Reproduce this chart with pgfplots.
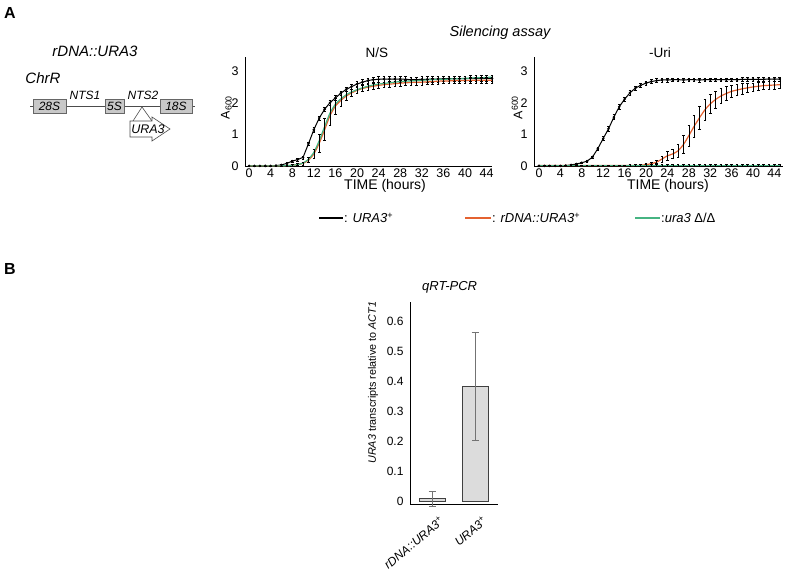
\documentclass[border=0pt]{standalone}
\usepackage{fontspec}
\setmainfont{Liberation Sans}
\usepackage{pgfplots}
\pgfplotsset{compat=1.18}
\usepackage{pgfplotstable}
\definecolor{myorange}{RGB}{228,98,48}
\definecolor{mygreen}{RGB}{70,180,130}
\definecolor{boxgray}{RGB}{200,200,200}
\definecolor{bargray}{RGB}{220,220,220}
\newcommand\fs[1]{\fontsize{#1bp}{#1bp}\selectfont}

\pgfplotstableread{
t blk be org oe grn
0 0 0 0 0 0
1 0 0 0 0 0
2 0 0 0 0 0
3 0 0 0 0 0
4 0 0 0 0 0
5 0.01 0.01 0 0 0
6 0.03 0.02 0 0 0
7 0.08 0.03 0.01 0.01 0.01
8 0.15 0.04 0.02 0.02 0.02
9 0.20 0.04 0.04 0.03 0.04
10 0.27 0.05 0.08 0.05 0.09
11 0.70 0.06 0.18 0.08 0.21
12 1.15 0.07 0.38 0.15 0.43
13 1.52 0.07 0.72 0.28 0.80
14 1.80 0.07 1.15 0.35 1.25
15 2.01 0.07 1.60 0.32 1.68
16 2.16 0.07 1.90 0.25 1.96
17 2.31 0.07 2.08 0.18 2.13
18 2.43 0.07 2.22 0.14 2.26
19 2.52 0.07 2.32 0.12 2.35
20 2.60 0.08 2.40 0.10 2.42
21 2.66 0.08 2.46 0.10 2.48
22 2.71 0.08 2.50 0.09 2.53
23 2.74 0.09 2.53 0.09 2.57
24 2.75 0.09 2.56 0.09 2.60
25 2.76 0.09 2.58 0.09 2.62
26 2.76 0.09 2.60 0.09 2.64
27 2.76 0.09 2.61 0.09 2.66
28 2.76 0.09 2.63 0.09 2.68
29 2.75 0.09 2.64 0.09 2.69
30 2.74 0.09 2.65 0.09 2.70
31 2.74 0.09 2.66 0.09 2.71
32 2.75 0.09 2.66 0.09 2.72
33 2.75 0.09 2.67 0.09 2.73
34 2.76 0.09 2.68 0.09 2.74
35 2.76 0.09 2.69 0.09 2.75
36 2.77 0.09 2.70 0.09 2.75
37 2.77 0.09 2.70 0.09 2.76
38 2.77 0.09 2.71 0.09 2.77
39 2.77 0.09 2.71 0.09 2.77
40 2.77 0.09 2.71 0.09 2.78
41 2.78 0.09 2.72 0.09 2.79
42 2.78 0.09 2.72 0.09 2.80
43 2.78 0.09 2.72 0.09 2.80
44 2.78 0.09 2.72 0.09 2.81
45 2.78 0.09 2.72 0.09 2.82
}\ns

\pgfplotstableread{
t blk be org oe grn ge
0 0 0 0.01 0 0.02 0
1 0 0 0.01 0 0.02 0
2 0 0 0.01 0 0.02 0
3 0 0 0.01 0 0.02 0
4 0 0 0.01 0 0.02 0
5 0.01 0.01 0.01 0 0.02 0
6 0.03 0.02 0.01 0 0.02 0
7 0.06 0.02 0.01 0 0.02 0
8 0.10 0.03 0.01 0 0.02 0
9 0.15 0.03 0.01 0 0.02 0
10 0.28 0.04 0.01 0 0.02 0
11 0.55 0.05 0.01 0 0.02 0
12 0.87 0.06 0.01 0 0.02 0
13 1.18 0.07 0.01 0 0.02 0
14 1.55 0.08 0.01 0 0.02 0
15 1.88 0.08 0.01 0 0.02 0
16 2.12 0.07 0.01 0 0.02 0
17 2.32 0.07 0.01 0 0.02 0.03
18 2.47 0.06 0.01 0.02 0.02 0.03
19 2.56 0.06 0.02 0.03 0.02 0.03
20 2.63 0.06 0.04 0.03 0.02 0.03
21 2.68 0.06 0.07 0.04 0.02 0.03
22 2.71 0.06 0.12 0.05 0.02 0.03
23 2.73 0.06 0.22 0.10 0.02 0.03
24 2.73 0.06 0.32 0.15 0.02 0.03
25 2.74 0.06 0.38 0.15 0.02 0.03
26 2.74 0.06 0.48 0.20 0.02 0.03
27 2.73 0.06 0.68 0.28 0.02 0.03
28 2.74 0.06 0.96 0.33 0.02 0.03
29 2.74 0.06 1.26 0.36 0.02 0.03
30 2.73 0.06 1.53 0.36 0.02 0.03
31 2.74 0.06 1.78 0.33 0.02 0.03
32 2.74 0.06 1.97 0.30 0.02 0.03
33 2.74 0.06 2.11 0.27 0.02 0.03
34 2.74 0.06 2.22 0.24 0.02 0.03
35 2.74 0.06 2.30 0.22 0.02 0.03
36 2.74 0.06 2.37 0.20 0.02 0.03
37 2.74 0.06 2.41 0.18 0.02 0.03
38 2.75 0.06 2.45 0.16 0.02 0.03
39 2.75 0.06 2.48 0.14 0.02 0.03
40 2.75 0.06 2.51 0.13 0.02 0.03
41 2.75 0.06 2.53 0.12 0.02 0.03
42 2.75 0.06 2.55 0.12 0.02 0.03
43 2.76 0.06 2.56 0.12 0.02 0.03
44 2.76 0.06 2.57 0.12 0.02 0.03
45 2.76 0.06 2.58 0.12 0.02 0.03
}\uri

\pgfplotsset{
  every axis title shift=0pt,
  growth/.style={
    scale only axis, height=109.5bp,
    axis x line*=bottom, axis y line*=left,
    ymin=-0.02, ymax=3.46,
    xtick={0,4,...,44}, ytick={0,1,2,3},
    tick style={draw=none},
    axis line style={line width=0.8bp, black},
    /pgf/number format/assume math mode=true,
    xticklabel style={font=\fs{12.5}, inner sep=2bp},
    yticklabel style={font=\fs{12.5}, xshift=-3bp},
    xlabel style={font=\fs{14}, anchor=center},
    ylabel style={font=\fs{12.5}, anchor=center},
    title style={font=\fs{13.5}, anchor=center},
    clip=false,
  },
  ebar/.style={error bars/.cd, y dir=both, y explicit,
    error bar style={draw=black, line width=0.5bp},
    error mark options={rotate=90, mark size=1.3bp, draw=black, line width=0.5bp}},
}

\begin{document}
\begin{tikzpicture}
\useasboundingbox (0,0) rectangle (787bp,-576bp);

% ---------- N/S ----------
\begin{axis}[growth, at={(245bp,-166.5bp)}, anchor=south west,
  width=247bp, xmin=-0.75, xmax=45,
  title={N/S}, title style={at={(axis description cs:0.534,1.04)}},
  xlabel={TIME (hours)}, xlabel style={at={(axis description cs:0.567,-0.18)}},
  ylabel={A\textsubscript{600}}, ylabel style={at={(axis description cs:-0.075,0.54)}}]
\addplot[black, line width=1bp, mark=*, mark size=0.7bp] table[x=t, y=blk] {\ns};
\addplot[draw=none, forget plot, ebar] table[x=t, y=blk, y error=be] {\ns};
\addplot[myorange, line width=1.2bp, smooth, tension=0.4] table[x=t, y=org] {\ns};
\addplot[mygreen, line width=1.2bp, smooth, tension=0.4] table[x=t, y=grn] {\ns};
\addplot[draw=none, forget plot, ebar] table[x=t, y=org, y error=oe] {\ns};
\end{axis}

% ---------- -Uri ----------
\begin{axis}[growth, at={(534bp,-166.5bp)}, anchor=south west,
  width=249bp, xmin=-0.93, xmax=45.6,
  title={-Uri}, title style={at={(axis description cs:0.506,1.04)}},
  xlabel={TIME (hours)}, xlabel style={at={(axis description cs:0.538,-0.18)}},
  ylabel={A\textsuperscript{600}}, ylabel style={at={(axis description cs:-0.068,0.54)}}]
\addplot[black, line width=1bp, mark=*, mark size=0.7bp] table[x=t, y=blk] {\uri};
\addplot[draw=none, forget plot, ebar] table[x=t, y=blk, y error=be] {\uri};
\addplot[myorange, line width=1.2bp, smooth, tension=0.4] table[x=t, y=org] {\uri};
\addplot[draw=none, forget plot, ebar] table[x=t, y=org, y error=oe] {\uri};
\addplot[mygreen, line width=1.2bp] table[x=t, y=grn] {\uri};
\addplot[draw=none, forget plot, ebar] table[x=t, y=grn, y error=ge] {\uri};
\end{axis}

% ---------- qRT-PCR ----------
\begin{axis}[scale only axis, at={(410bp,-504bp)}, anchor=south west,
  width=88bp, height=202.3bp,
  axis x line*=bottom, axis y line*=left,
  xmin=0.488, xmax=2.535, ymin=-0.0077, ymax=0.667,
  xtick={1,2}, xticklabels={\textit{rDNA::URA3}\textsuperscript{+},\textit{URA3}\textsuperscript{+}},
  ytick={0,0.1,0.2,0.3,0.4,0.5,0.6},
  yticklabels={0,0.1,0.2,0.3,0.4,0.5,0.6},
  tick style={draw=none},
  axis line style={line width=0.8bp, black},
  xticklabel style={font=\fs{12}, rotate=40, anchor=north east, inner sep=1bp, xshift=-1bp, yshift=-12bp},
  yticklabel style={font=\fs{12}, xshift=-3bp},
  ylabel={\textit{URA3} transcripts relative to \textit{ACT1}},
  ylabel style={font=\fs{10.8}, at={(axis description cs:-0.42,0.6)}, anchor=center},
  title={\textit{qRT-PCR}}, title style={font=\fs{13}, at={(axis description cs:0.45,1.073)}, anchor=center},
  clip=false]
\addplot[ybar, bar width=26bp, fill=bargray, draw=black!75, line width=0.8bp,
  error bars/.cd, y dir=both, y explicit,
  error bar style={draw=black!55, line width=0.7bp},
  error mark options={rotate=90, mark size=3.5bp, draw=black!55, line width=0.7bp}]
  coordinates {(1,0.01) +- (0,0.025) (2,0.385) +- (0,0.18)};
\end{axis}

% ---------- annotations ----------
\begin{scope}[x=1bp, y=-1bp]
\node[font=\fs{16}\bfseries, inner sep=0] at (10,12.5) {A};
\node[font=\fs{16}\bfseries, inner sep=0] at (10,268.5) {B};
\node[font=\fs{14.5}\itshape, inner sep=0] at (500,33) {Silencing assay};
\node[font=\fs{15}\itshape, inner sep=0] at (95,51) {rDNA::URA3};
\node[font=\fs{15}\itshape, inner sep=0] at (43,78) {ChrR};
% chromosome diagram
\draw[black!70, line width=0.7bp] (30,106.5) -- (195,106.5);
\draw[fill=boxgray, draw=black!60, line width=0.6bp] (33,99.5) rectangle (66,113.5);
\draw[fill=boxgray, draw=black!60, line width=0.6bp] (105,99.5) rectangle (124,113.5);
\draw[fill=boxgray, draw=black!60, line width=0.6bp] (160,99.5) rectangle (192,113.5);
\node[font=\fs{12}\itshape, inner sep=0] at (49.5,106.5) {28S};
\node[font=\fs{12}\itshape, inner sep=0] at (114.5,106.5) {5S};
\node[font=\fs{12}\itshape, inner sep=0] at (176,106.5) {18S};
\node[font=\fs{12}\itshape, inner sep=0] at (85,95) {NTS1};
\node[font=\fs{12}\itshape, inner sep=0] at (143,95) {NTS2};
\draw[black!70, line width=0.6bp] (133,121) -- (142,107) -- (152,121);
\draw[fill=white, draw=black!70, line width=0.6bp] (130,121) -- (152,121) -- (152,117) -- (170,129) -- (152,141) -- (152,137) -- (130,137) -- cycle;
\node[font=\fs{12.5}\itshape, inner sep=0] at (148,129) {URA3};
% legend
\draw[black, line width=1.2bp] (319,218) -- (343,218);
\node[font=\fs{13}, inner sep=0, anchor=west] at (344,218) {: \textit{URA3}\textsuperscript{+}};
\draw[myorange, line width=1.2bp] (465,218) -- (491,218);
\node[font=\fs{13}, inner sep=0, anchor=west] at (492,218) {: \textit{rDNA::URA3}\textsuperscript{+}};
\draw[mygreen, line width=1.2bp] (635,218) -- (660,218);
\node[font=\fs{13}, inner sep=0, anchor=west] at (661,218) {:\textit{ura3} Δ/Δ};
\end{scope}
\end{tikzpicture}
\end{document}
